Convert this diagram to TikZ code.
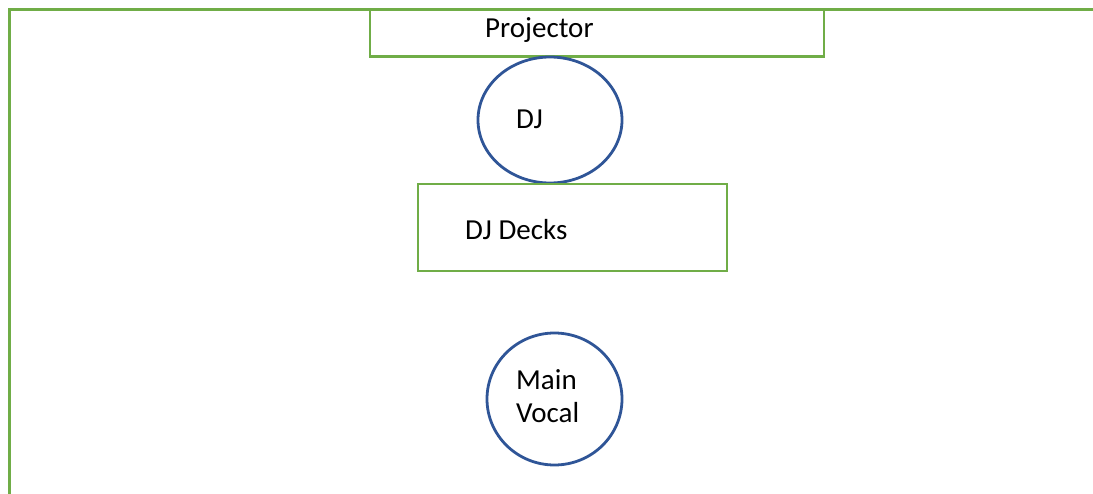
\documentclass[tikz,border=0pt]{standalone}
\usepackage{fontspec}
\setmainfont{Carlito}
\usetikzlibrary{shapes.geometric}
\definecolor{grn}{HTML}{70AD47}
\definecolor{blu}{HTML}{2F5597}
\begin{document}
\begin{tikzpicture}[x=1pt,y=-1pt,
  gbox/.style={draw=grn,line width=2.8pt,inner sep=0pt},
  bcirc/.style={draw=blu,line width=2.8pt,ellipse,inner sep=0pt},
  lbl/.style={font=\fontsize{29}{33}\selectfont,inner sep=0pt,anchor=west,align=left}]
\useasboundingbox (0,0) rectangle (1093,493);
\draw[draw=grn,line width=3pt] (9,495) -- (9,9) -- (1095,9);
\node[gbox,minimum width=454pt,minimum height=47pt] (proj) at (597,33) {};
\node[lbl] (projt) at (485,30) {Projector};
\node[bcirc,minimum width=144pt,minimum height=126pt] (dj) at (550,120) {};
\node[lbl] (djt) at (516,119) {DJ};
\node[gbox,minimum width=309pt,minimum height=87pt] (decks) at (572.5,227.5) {};
\node[lbl] (deckst) at (465,230) {DJ Decks};
\node[bcirc,minimum width=135pt,minimum height=132pt] (vocal) at (554.5,399) {};
\node[lbl] (vocalt) at (516,396) {Main\\Vocal};
\end{tikzpicture}
\end{document}
